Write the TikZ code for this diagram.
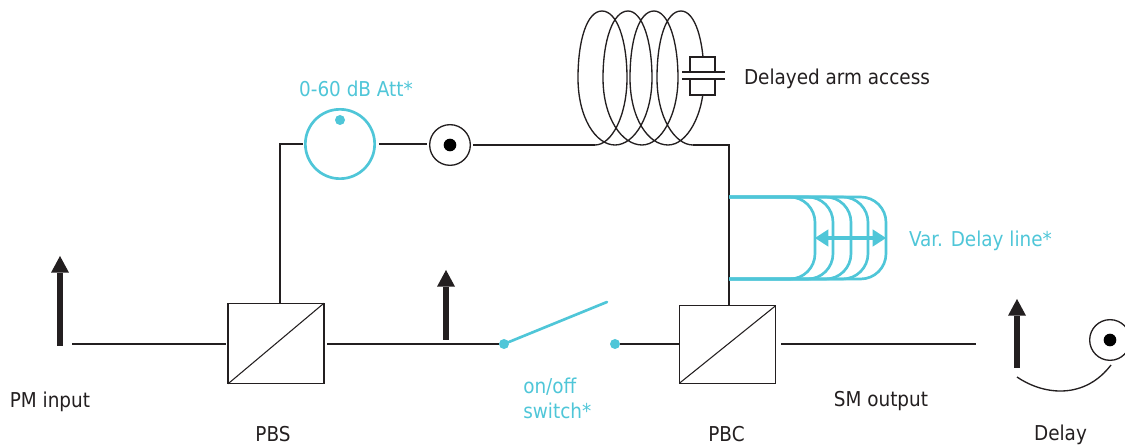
\documentclass[tikz,border=0pt]{standalone}
\usepackage{fontspec}
\setmainfont{DejaVu Sans Condensed}
\usetikzlibrary{arrows.meta}
\definecolor{teal1}{HTML}{4FC6D8}
\definecolor{ink}{HTML}{231F20}
\tikzset{
  x=0.75pt,y=-0.75pt,
  wire/.style={draw=ink,line width=1pt},
  pol/.style={draw=ink,line width=5pt,-{Triangle[length=12.5pt,width=13.5pt,line width=0pt]}},
  cube/.style={draw=ink,line width=0.8pt,minimum width=72pt,minimum height=60.5pt,inner sep=0pt,outer sep=0pt},
  port/.style={circle,draw=ink,line width=1pt,minimum size=30.5pt,inner sep=0pt,outer sep=0pt},
  core/.style={circle,fill=black,minimum size=9.5pt,inner sep=0pt},
  knob/.style={circle,draw=teal1,line width=2pt,minimum size=52pt,inner sep=0pt,outer sep=0pt},
  tdot/.style={circle,fill=teal1,minimum size=7.5pt,inner sep=0pt},
  tline/.style={draw=teal1,line width=2pt},
  blk/.style={font=\fontsize{15.35}{18.75}\selectfont,text=ink,inner sep=0pt,anchor=center},
  tl/.style={font=\fontsize{15.35}{18.75}\selectfont,text=teal1,inner sep=0pt,anchor=center},
}
\begin{document}
\begin{tikzpicture}
\useasboundingbox (0,0) rectangle (1125,448);
% components
\node[cube] (pbs) at (276,343.5) {};
\node[cube,minimum height=58pt] (pbc) at (727.5,344.5) {};
\draw[ink,line width=0.8pt] (pbs.south west) -- (pbs.north east);
\draw[ink,line width=0.8pt] (pbc.south west) -- (pbc.north east);
\node[knob] (att) at (340,144) {};
\node[tdot] (attdot) at (340,120) {};
\node[port] (p1) at (450,145) {};
\node[core] (p1c) at (450,145) {};
\node[port] (p2) at (1110,340) {};
\node[core] (p2c) at (1110,340) {};
\node[tdot] (sa) at (504,344) {};
\node[tdot] (sb) at (615,344) {};
% free ends and corners
\coordinate (inp) at (72,344);
\coordinate (outp) at (976,344);
\coordinate (c1) at (280,144);
\coordinate (ci) at (595,145);
\coordinate (co) at (693,145);
\coordinate (c2) at (729,145);
\coordinate (bt) at (607,302);
% wires
\draw[wire] (inp) -- (226,344);
\draw[wire] (pbs.north -| c1) -- (c1) -- (303,144);
\draw[wire] (379,144) -- (427,144);
\draw[wire] (473,145) -- (ci);
\draw[wire] (co) -- (c2) -- (pbc.north -| c2);
\draw[wire] (327,344) -- (sa);
\draw[wire] (sb) -- (sb -| pbc.west);
\draw[wire] (781,344) -- (outp);
% coil
\draw[wire,line join=round] (ci)
  .. controls (612,145) and (627,115) .. (627,78)
  .. controls (627,40) and (617,11) .. (602,11)
  .. controls (587,11) and (578,40) .. (578,78)
  .. controls (578,118) and (596,145) .. (615,145)
  .. controls (635,145) and (652,115) .. (652,78)
  .. controls (652,40) and (642,11) .. (628,11)
  .. controls (613,11) and (603,40) .. (603,78)
  .. controls (603,118) and (622,145) .. (642,145)
  .. controls (661,145) and (678,115) .. (678,78)
  .. controls (678,40) and (668,11) .. (654,11)
  .. controls (639,11) and (630,40) .. (630,78)
  .. controls (630,118) and (648,145) .. (668,145)
  .. controls (687,145) and (704,115) .. (704,78)
  .. controls (704,40) and (695,11) .. (681,11)
  .. controls (666,11) and (657,40) .. (657,78)
  .. controls (657,118) and (675,145) .. (693,145);
% access
\fill[white] (688,56) rectangle (717,96);
\draw[ink,line width=0.9pt] (690,72) -- (690,57) -- (715,57) -- (715,72);
\draw[ink,line width=0.9pt] (690,79) -- (690,95) -- (715,95) -- (715,79);
\draw[ink,line width=1pt] (682,72) -- (725,72);
\draw[ink,line width=1pt] (682,79) -- (725,79);
% variable delay
\foreach \r in {815,833,851,868,886}{
  \draw[tline,rounded corners=19pt] (729,197) -- (\r,197) -- (\r,279) -- (729,279);
}
\coordinate (va) at (815,238);
\coordinate (vb) at (886,238);
\draw[teal1,line width=3.6pt,{Triangle[length=10pt,width=13pt,line width=0pt]}-{Triangle[length=10pt,width=13pt,line width=0pt]}] (va) -- (vb);
% switch
\draw[tline,line cap=round] (sa) -- (bt);
% polarisation arrows
\coordinate (a1b) at (60,346); \coordinate (a1t) at (60,256);
\coordinate (a2b) at (446,340); \coordinate (a2t) at (446,270);
\coordinate (a3b) at (1017,368); \coordinate (a3t) at (1017,299);
\draw[pol] (a1b) -- (a1t);
\draw[pol] (a2b) -- (a2t);
\draw[pol] (a3b) -- (a3t);
% delay arc
\coordinate (da) at (1017,377);
\coordinate (db) at (1111,365);
\draw[wire] (da) .. controls (1045,396) and (1085,399) .. (db);
% labels
\node[blk] (t1) at (50,401.5) {PM input};
\node[blk] (t2) at (273,434.5) {PBS};
\node[blk] (t3) at (726.5,434.5) {PBC};
\node[blk] (t4) at (1060.5,434.5) {Delay};
\node[blk] (t5) at (881,401.5) {SM output};
\node[blk] (t6) at (837,78.5) {Delayed arm access};
\node[tl] (t7) at (356,89) {0-60 dB Att*};
\node[tl] (t8) at (980.5,240.5) {Var. Delay line*};
\node[tl,align=left,anchor=north west] (t9) at (523,378) {on/off\\switch*};
\end{tikzpicture}
\end{document}
